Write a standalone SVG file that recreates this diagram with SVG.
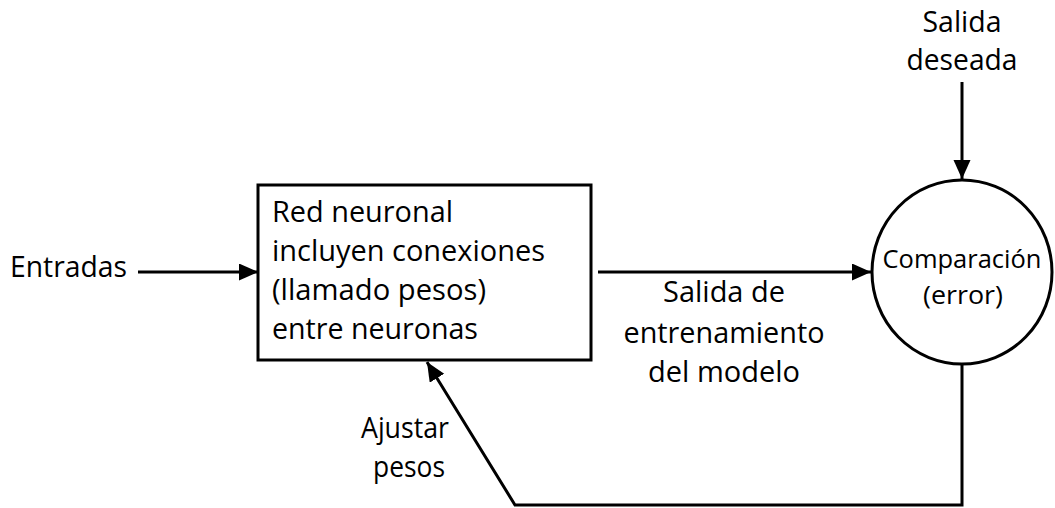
<svg xmlns="http://www.w3.org/2000/svg" width="1055" height="508" viewBox="0 0 1055 508">
<style>
text{font-family:"Open Sans","Noto Sans","Liberation Sans",sans-serif;font-size:29px;fill:#000}
.c{text-anchor:middle}
.shape{fill:#fff;stroke:#000;stroke-width:3}
.conn{fill:none;stroke:#000;stroke-width:3}
</style>
<defs>
<marker id="ah" markerUnits="userSpaceOnUse" markerWidth="20" markerHeight="18" refX="19" refY="8.5" orient="auto">
<path d="M0,0 L19,8.5 L0,17 z" fill="#000"/>
</marker>
</defs>
<rect width="1055" height="508" fill="#fff"/>
<g id="connectors">
<path class="conn" d="M138,272 L258,272" marker-end="url(#ah)"/>
<path class="conn" d="M598,272 L871,272" marker-end="url(#ah)"/>
<path class="conn" d="M962,82 L962,179" marker-end="url(#ah)"/>
<path class="conn" d="M962,364 L962,505 L515,505 L427,362" marker-end="url(#ah)"/>
</g>
<g id="entradas">
<text x="10" y="277" textLength="117" lengthAdjust="spacingAndGlyphs">Entradas</text>
</g>
<g id="red-neuronal">
<rect class="shape" x="258" y="185" width="333" height="175"/>
<text x="272" y="222" textLength="181" lengthAdjust="spacingAndGlyphs">Red neuronal</text>
<text x="272" y="261" textLength="273" lengthAdjust="spacingAndGlyphs">incluyen conexiones</text>
<text x="272" y="300" textLength="214" lengthAdjust="spacingAndGlyphs">(llamado pesos)</text>
<text x="272" y="339" textLength="206" lengthAdjust="spacingAndGlyphs">entre neuronas</text>
</g>
<g id="salida-entrenamiento">
<text class="c" x="724" y="302" textLength="122" lengthAdjust="spacingAndGlyphs">Salida de</text>
<text class="c" x="724" y="343" textLength="201" lengthAdjust="spacingAndGlyphs">entrenamiento</text>
<text class="c" x="724" y="382" textLength="152" lengthAdjust="spacingAndGlyphs">del modelo</text>
</g>
<g id="salida-deseada">
<text class="c" x="962" y="32" textLength="79" lengthAdjust="spacingAndGlyphs">Salida</text>
<text class="c" x="962" y="70" textLength="111" lengthAdjust="spacingAndGlyphs">deseada</text>
</g>
<g id="comparacion">
<ellipse class="shape" cx="962" cy="272" rx="90" ry="92"/>
<text class="c" x="962" y="268" style="font-size:25px" textLength="159" lengthAdjust="spacingAndGlyphs">Comparación</text>
<text class="c" x="963" y="304" style="font-size:25px" textLength="80" lengthAdjust="spacingAndGlyphs">(error)</text>
</g>
<g id="ajustar-pesos">
<text class="c" x="405" y="438" textLength="88" lengthAdjust="spacingAndGlyphs">Ajustar</text>
<text class="c" x="409" y="477" textLength="72" lengthAdjust="spacingAndGlyphs">pesos</text>
</g>
</svg>
